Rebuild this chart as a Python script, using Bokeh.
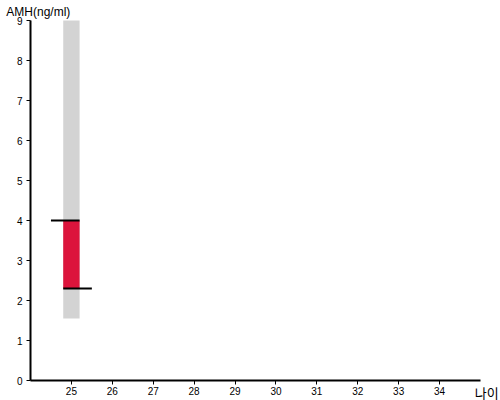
from bokeh.plotting import figure
from bokeh.models import Range1d, FixedTicker, Label
from bokeh.embed import file_html
from bokeh.resources import INLINE

# data
ages = [25]
ref_low = [1.55]
ref_high = [9.0]
val_low = [2.3]
val_high = [4.0]
x_ticks = [25, 26, 27, 28, 29, 30, 31, 32, 33, 34]
y_ticks = [0, 1, 2, 3, 4, 5, 6, 7, 8, 9]
y_title = "AMH(ng/ml)"
x_title = "나이"

x_lo, x_hi = 24, 35
y_lo, y_hi = 0, 9

p = figure(width=500, height=400, output_backend="svg", toolbar_location=None,
           x_range=Range1d(23.2667, 35.4889), y_range=Range1d(-0.5, 9.5),
           min_border=0)
p.outline_line_color = None
p.grid.visible = False
p.background_fill_color = "white"
p.border_fill_color = "white"

bw = 0.4
p.vbar(x=ages, width=bw, bottom=ref_low, top=ref_high, fill_color="#d3d3d3", line_color=None)
p.vbar(x=ages, width=bw, bottom=val_low, top=val_high, fill_color="#dc143c", line_color=None)
p.segment(x0=[a - 0.5 for a in ages], x1=[a + bw / 2 for a in ages], y0=val_high, y1=val_high,
          line_color="black", line_width=2)
p.segment(x0=[a - bw / 2 for a in ages], x1=[a + 0.5 for a in ages], y0=val_low, y1=val_low,
          line_color="black", line_width=2)

for ax in (p.xaxis[0], p.yaxis[0]):
    ax.axis_line_width = 2
    ax.axis_line_color = "black"
    ax.major_tick_line_color = "black"
    ax.major_tick_line_width = 1
    ax.major_tick_out = 4
    ax.major_tick_in = 0
    ax.minor_tick_line_color = None
    ax.major_label_text_font = "Liberation Sans"
    ax.major_label_text_font_size = "10px"
    ax.major_label_text_color = "black"

p.xaxis[0].ticker = FixedTicker(ticks=x_ticks)
p.yaxis[0].ticker = FixedTicker(ticks=y_ticks)
p.xaxis[0].major_label_standoff = 2
p.yaxis[0].major_label_standoff = 4
p.xaxis[0].fixed_location = y_lo
p.yaxis[0].fixed_location = x_lo
p.xaxis[0].bounds = (x_lo, x_hi)
p.yaxis[0].bounds = (y_lo, y_hi)

p.add_layout(Label(x=23.41, y=9.2125, text=y_title, text_font="Liberation Sans",
                   text_font_size="12px", text_color="black", text_baseline="middle"))
p.add_layout(Label(x=34.86, y=-0.2875, text=x_title, text_font="Noto Sans CJK KR",
                   text_font_size="13px", text_color="black", text_baseline="middle"))

open("out.html", "w").write(file_html(p, INLINE))
